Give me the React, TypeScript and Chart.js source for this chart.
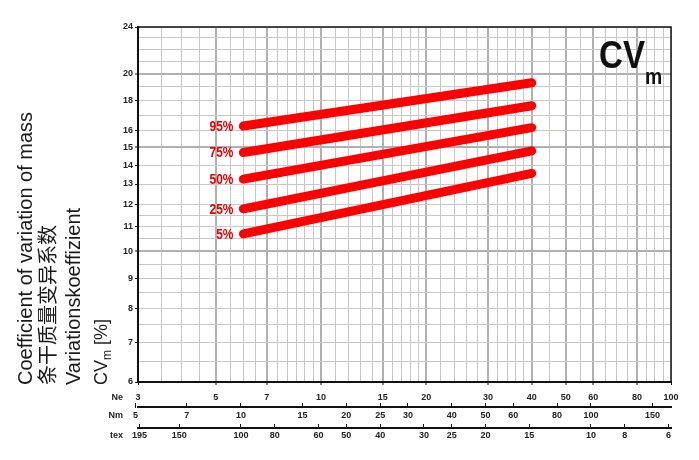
import React, { useEffect, useRef } from "react";
import { Chart, registerables } from "chart.js";

Chart.register(...registerables);

// ---- data ----
const NE_POINTS = [6, 40];
const CV_95 = [16.3, 19.3];
const CV_75 = [14.7, 17.65];
const CV_50 = [13.25, 16.2];
const CV_25 = [11.8, 14.8];
const CV_5 = [10.7, 13.55];
const SERIES = [
  { label: "95%", values: CV_95 },
  { label: "75%", values: CV_75 },
  { label: "50%", values: CV_50 },
  { label: "25%", values: CV_25 },
  { label: "5%", values: CV_5 },
];

// ---- axes / grid ----
const NE_GRID = [3, 3.5, 4, 4.5, 5, 5.5, 6, 6.5, 7, 7.5, 8, 8.5, 9, 9.5, 10, 11, 12, 13, 14, 15, 16, 17, 18, 19, 20, 22, 24, 26, 28, 30, 32, 34, 36, 38, 40, 45, 50, 55, 60, 65, 70, 75, 80, 85, 90, 95, 100];
const NE_LABELS = [3, 5, 7, 10, 15, 20, 30, 40, 50, 60, 80, 100];
const NE_STRONG = [5, 7, 10, 15, 20, 30, 40, 50, 60, 80];
const CV_GRID = [6, 6.5, 7, 7.5, 8, 8.5, 9, 9.5, 10, 10.5, 11, 11.5, 12, 13, 14, 15, 16, 17, 18, 19, 20, 21, 22, 23, 24];
const CV_LABELS = [6, 7, 8, 9, 10, 11, 12, 13, 14, 15, 16, 18, 20, 24];
const CV_STRONG = [10, 15, 20];
const NM_LABELS = [5, 7, 10, 15, 20, 25, 30, 40, 50, 60, 80, 100, 150];
const TEX_LABELS = [195, 150, 100, 80, 60, 50, 40, 30, 25, 20, 15, 10, 8, 6];
const NE_MIN = 3;
const NE_MAX = 100;
const CV_MIN = 6;
const CV_MAX = 24;
const NM_PER_NE = 1.693;
const TEX_TIMES_NE = 590.5;

const TITLE_LINES = ["Coefficient of variation of mass", "条干质量变异系数", "Variationskoeffizient"];

const FONT = "'Liberation Sans', Arial, 'Noto Sans', sans-serif";
const CJK_FONT = "'Noto Sans CJK SC', 'Liberation Sans', sans-serif";
const RED = "#ff0000";

function scaledText(ctx: CanvasRenderingContext2D, text: string, x: number, y: number, font: string, color: string, align: CanvasTextAlign, sx: number, baseline: CanvasTextBaseline = "alphabetic") {
  ctx.save();
  ctx.translate(x, y);
  ctx.scale(sx, 1);
  ctx.font = font;
  ctx.fillStyle = color;
  ctx.textAlign = align;
  ctx.textBaseline = baseline;
  ctx.fillText(text, 0, 0);
  ctx.restore();
}

const decorPlugin = {
  id: "decor",
  afterDatasetsDraw(chart: any) {
    const ctx: CanvasRenderingContext2D = chart.ctx;
    chart.data.datasets.forEach((ds: any, i: number) => {
      const meta = chart.getDatasetMeta(i);
      const p = meta.data[0];
      if (!p) return;
      scaledText(ctx, ds.label, p.x - 10, p.y + 1, `bold 14px ${FONT}`, "#e60000", "right", 0.85, "middle");
    });
  },
  afterDraw(chart: any) {
    const ctx: CanvasRenderingContext2D = chart.ctx;
    const ca = chart.chartArea;
    // top and right frame
    ctx.save();
    ctx.strokeStyle = "#111";
    ctx.lineWidth = 1.5;
    ctx.beginPath();
    ctx.moveTo(ca.left, ca.top);
    ctx.lineTo(ca.right, ca.top);
    ctx.lineTo(ca.right, ca.bottom);
    ctx.stroke();
    ctx.restore();

    // CV_m tag
    scaledText(ctx, "CV", ca.right - 72, ca.top + 41, `bold 39px ${FONT}`, "#111", "left", 0.85);
    scaledText(ctx, "m", ca.right - 26, ca.top + 57, `bold 22px ${FONT}`, "#111", "left", 0.88);

    // axis names
    const xs = chart.scales.x;
    const nm = chart.scales.nm;
    const tex = chart.scales.tex;
    const nameX = ca.left - 15;
    scaledText(ctx, "Ne", nameX, xs.top + 15.5, `bold 9px ${FONT}`, "#222", "right", 1, "middle");
    scaledText(ctx, "Nm", nameX, nm.top + 8.5, `bold 9px ${FONT}`, "#222", "right", 1, "middle");
    scaledText(ctx, "tex", nameX, tex.top + 7.5, `bold 9px ${FONT}`, "#222", "right", 1, "middle");

    // rotated y-axis title
    const baseY = ca.bottom + 3;
    const drawRot = (x: number, parts: { t: string; font: string; dy?: number }[]) => {
      ctx.save();
      ctx.translate(x, baseY);
      ctx.rotate(-Math.PI / 2);
      ctx.fillStyle = "#1a1a1a";
      ctx.textAlign = "left";
      ctx.textBaseline = "alphabetic";
      let u = 0;
      parts.forEach((p) => {
        ctx.font = p.font;
        ctx.fillText(p.t, u, p.dy || 0);
        u += ctx.measureText(p.t).width;
      });
      ctx.restore();
    };
    drawRot(32, [{ t: TITLE_LINES[0], font: `20px ${FONT}` }]);
    drawRot(55, [{ t: TITLE_LINES[1], font: `20px ${CJK_FONT}` }]);
    drawRot(80, [{ t: TITLE_LINES[2], font: `20px ${FONT}` }]);
    drawRot(107, [
      { t: "CV", font: `18px ${FONT}` },
      { t: "m", font: `12px ${FONT}`, dy: 4 },
      { t: " [%]", font: `18px ${FONT}` },
    ]);
  },
};

const tickFont = { family: FONT, size: 9, weight: "bold" as const };

export default function App() {
  const canvasRef = useRef<HTMLCanvasElement | null>(null);

  useEffect(() => {
    if (!canvasRef.current) return;
    const chart = new Chart(canvasRef.current, {
      type: "line",
      data: {
        datasets: SERIES.map((s) => ({
          label: s.label,
          data: NE_POINTS.map((x, i) => ({ x, y: s.values[i] })),
          borderColor: RED,
          backgroundColor: RED,
          borderWidth: 9,
          borderCapStyle: "round",
          pointRadius: 0,
          fill: false,
          tension: 0,
        })),
      },
      options: {
        responsive: false,
        animation: false,
        layout: { padding: { left: 0, top: 27, right: 28, bottom: 12 } },
        plugins: { legend: { display: false }, tooltip: { enabled: false } },
        scales: {
          x: {
            type: "logarithmic",
            position: "bottom",
            weight: 0,
            min: NE_MIN,
            max: NE_MAX,
            afterBuildTicks: (s: any) => {
              s.ticks = NE_GRID.map((v) => ({ value: v }));
            },
            afterFit: (s: any) => {
              s.height = 25;
            },
            grid: {
              color: (c: any) => (NE_STRONG.includes(c.tick?.value) ? "#b0b0b0" : "#c8c8c8"),
              lineWidth: (c: any) => (NE_STRONG.includes(c.tick?.value) ? 2 : 1),
              tickLength: 3,
              tickWidth: 1,
              tickColor: (c: any) => (NE_LABELS.includes(c.tick?.value) ? "#111" : "rgba(0,0,0,0)"),
            },
            border: { display: true, color: "#111", width: 2 },
            ticks: {
              autoSkip: false,
              maxRotation: 0,
              padding: 7,
              color: "#222",
              font: tickFont,
              callback: (v: any) => (NE_LABELS.includes(Number(v)) ? String(v) : ""),
            },
          },
          nm: {
            type: "logarithmic",
            axis: "x",
            position: "bottom",
            weight: 1,
            min: NE_MIN * NM_PER_NE,
            max: NE_MAX * NM_PER_NE,
            afterBuildTicks: (s: any) => {
              s.ticks = NM_LABELS.map((v) => ({ value: v }));
            },
            afterFit: (s: any) => {
              s.height = 21;
            },
            grid: { drawOnChartArea: false, tickLength: -4, tickWidth: 1, tickColor: "#111", color: "#111" },
            border: { display: true, color: "#111", width: 2 },
            ticks: {
              autoSkip: false,
              maxRotation: 0,
              padding: 7,
              color: "#222",
              font: tickFont,
              callback: (v: any) => String(v),
            },
          },
          tex: {
            type: "logarithmic",
            axis: "x",
            position: "bottom",
            weight: 2,
            reverse: true,
            min: TEX_TIMES_NE / NE_MAX,
            max: TEX_TIMES_NE / NE_MIN,
            afterBuildTicks: (s: any) => {
              s.ticks = TEX_LABELS.map((v) => ({ value: v }));
            },
            afterFit: (s: any) => {
              s.height = 20;
            },
            grid: { drawOnChartArea: false, tickLength: -4, tickWidth: 1, tickColor: "#111", color: "#111" },
            border: { display: true, color: "#111", width: 2 },
            ticks: {
              autoSkip: false,
              maxRotation: 0,
              padding: 6,
              color: "#222",
              font: tickFont,
              callback: (v: any) => String(v),
            },
          },
          y: {
            type: "logarithmic",
            position: "left",
            min: CV_MIN,
            max: CV_MAX,
            afterBuildTicks: (s: any) => {
              s.ticks = CV_GRID.map((v) => ({ value: v }));
            },
            afterFit: (s: any) => {
              s.width = 138;
            },
            grid: {
              color: (c: any) => (CV_STRONG.includes(c.tick?.value) ? "#b0b0b0" : "#c8c8c8"),
              lineWidth: (c: any) => (CV_STRONG.includes(c.tick?.value) ? 2 : 1),
              tickLength: 3,
              tickWidth: 1,
              tickColor: (c: any) => (CV_LABELS.includes(c.tick?.value) ? "#111" : "rgba(0,0,0,0)"),
            },
            border: { display: true, color: "#111", width: 2 },
            ticks: {
              autoSkip: false,
              padding: 2,
              color: "#222",
              font: tickFont,
              callback: (v: any) => (CV_LABELS.includes(Number(v)) ? String(v) : ""),
            },
          },
        },
      } as any,
      plugins: [decorPlugin],
    });
    return () => chart.destroy();
  }, []);

  return (
    <div style={{ position: "fixed", left: 0, top: 0, width: 699, height: 460, background: "#fff" }}>
      <canvas ref={canvasRef} width={699} height={460} style={{ display: "block" }} />
    </div>
  );
}
